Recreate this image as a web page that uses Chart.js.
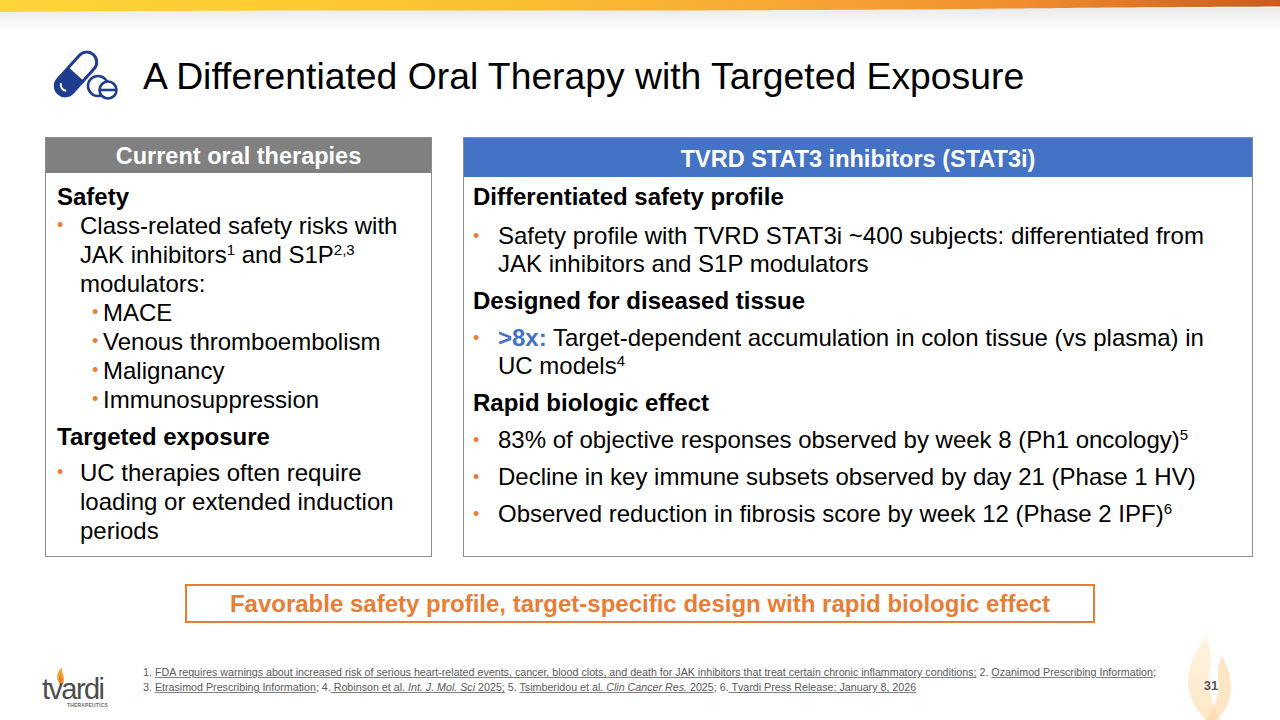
<!DOCTYPE html>
<html>
<head>
<meta charset="utf-8">
<script src="https://cdn.jsdelivr.net/npm/chart.js@4.4.1/dist/chart.umd.min.js"></script>
<style>
  html, body { margin: 0; padding: 0; }
  body { width: 1280px; height: 720px; position: relative; overflow: hidden; background: #fff;
         font-family: "Liberation Sans", Arial, sans-serif; color: #000; }
  .abs { position: absolute; }
  #banner { left: 0; top: 0; width: 1280px; height: 40px; }
  #title { left: 143px; top: 54px; font-size: 37.3px; line-height: 44px; white-space: nowrap; }
  .box { position: absolute; border: 1.5px solid #8c8c8c; box-sizing: border-box; }
  .head { color: #fff; font-weight: bold; font-size: 23.5px; text-align: center; white-space: nowrap; }
  .body24 { font-size: 24px; white-space: nowrap; }
  .b { position: relative; padding-left: 23px; }
  .b::before { content: "\2022"; color: #e87d35; position: absolute; left: 0; font-size: 18px; }
  .sub { padding-left: 11px; }
  .h { font-weight: bold; }
  sup { font-size: 15px; line-height: 0; vertical-align: 8px; }
  #note { left: 143px; top: 665px; font-size: 10.7px; line-height: 15px; color: #595959; white-space: nowrap; }
  #note u { text-decoration-color: #7f7f7f; }
</style>
</head>
<body>
<canvas id="banner" class="abs" width="1280" height="40"></canvas>

<svg class="abs" style="left:50px;top:48px" width="70" height="56" viewBox="0 0 70 56">
  <g transform="translate(26,26) rotate(-48)">
    <rect x="-26" y="-10" width="52" height="20" rx="10" fill="#fff" stroke="#1f3c8f" stroke-width="3"/>
    <path d="M0,-10 L-16,-10 A10,10 0 0 0 -16,10 L0,10 Z" fill="#1f3c8f"/>
    <path d="M-17,-5 A6,6 0 0 0 -19,4" stroke="#fff" stroke-width="2" fill="none"/>
  </g>
  <circle cx="48" cy="38" r="10" fill="#fff" stroke="#1f3c8f" stroke-width="2.6"/>
  <circle cx="58" cy="42" r="8.5" fill="#fff" stroke="#1f3c8f" stroke-width="2.6"/>
  <line x1="50" y1="42" x2="66" y2="42" stroke="#1f3c8f" stroke-width="2.6"/>
</svg>
<div id="title" class="abs">A Differentiated Oral Therapy with Targeted Exposure</div>

<!-- left box -->
<div class="box" style="left:45px;top:137px;width:387px;height:420px;">
  <div class="head" style="background:#808080;height:35px;line-height:36px;">Current oral therapies</div>
  <div class="body24" style="position:absolute;left:11px;top:44px;line-height:29px;">
    <div class="h">Safety</div>
    <div class="b">Class-related safety risks with<br>JAK inhibitors<sup>1</sup> and S1P<sup>2,3</sup><br>modulators:</div>
    <div style="padding-left:35px">
      <div class="b sub">MACE</div>
      <div class="b sub">Venous thromboembolism</div>
      <div class="b sub">Malignancy</div>
      <div class="b sub">Immunosuppression</div>
    </div>
    <div class="h" style="margin-top:8px;">Targeted exposure</div>
    <div class="b" style="margin-top:7px;">UC therapies often require<br>loading or extended induction<br>periods</div>
  </div>
</div>

<!-- right box -->
<div class="box" style="left:463px;top:137px;width:790px;height:420px;">
  <div class="head" style="background:#4472c4;height:39px;line-height:42px;">TVRD STAT3 inhibitors (STAT3i)</div>
  <div class="body24" style="position:absolute;left:9px;top:45px;line-height:28px;">
    <div class="h">Differentiated safety profile</div>
    <div class="b" style="margin-top:11px;padding-left:25px;">Safety profile with TVRD STAT3i ~400 subjects: differentiated from<br>JAK inhibitors and S1P modulators</div>
    <div class="h" style="margin-top:9px;">Designed for diseased tissue</div>
    <div class="b" style="margin-top:9px;padding-left:25px;"><b style="color:#4472c4">&gt;8x:</b> Target-dependent accumulation in colon tissue (vs plasma) in<br>UC models<sup>4</sup></div>
    <div class="h" style="margin-top:9px;">Rapid biologic effect</div>
    <div class="b" style="margin-top:9px;padding-left:25px;">83% of objective responses observed by week 8 (Ph1 oncology)<sup>5</sup></div>
    <div class="b" style="margin-top:9px;padding-left:25px;">Decline in key immune subsets observed by day 21 (Phase 1 HV)</div>
    <div class="b" style="margin-top:9px;padding-left:25px;">Observed reduction in fibrosis score by week 12 (Phase 2 IPF)<sup>6</sup></div>
  </div>
</div>

<!-- takeaway -->
<div class="abs" style="left:185px;top:584px;width:910px;height:39px;box-sizing:border-box;border:2px solid #e87d35;
     color:#e87d35;font-weight:bold;font-size:24px;line-height:35px;text-align:center;white-space:nowrap;">
  Favorable safety profile, target-specific design with rapid biologic effect
</div>

<!-- footer logo -->
<svg class="abs" style="left:38px;top:660px" width="80" height="50" viewBox="0 0 80 50">
  <path d="M22,24 C17,18 19,12 24,7 C23,13 27,16 26,22 C25,24 23,25 22,24 Z" fill="#f3a530"/>
  <path d="M22,24 C20,20 21,16 23,13 C23,17 25,19 24,22 Z" fill="#e87d35"/>
  <text x="4" y="39" font-family="Liberation Sans, Arial" font-size="29" fill="#4d4d4d" letter-spacing="-1.6">tvardi</text>
  <text x="29" y="46.5" font-family="Liberation Sans, Arial" font-size="4.8" font-weight="bold" fill="#666" letter-spacing="0.3">THERAPEUTICS</text>
</svg>

<div id="note" class="abs">
  1. <u>FDA requires warnings about increased risk of serious heart-related events, cancer, blood clots, and death for JAK inhibitors that treat certain chronic inflammatory conditions;</u> 2. <u>Ozanimod Prescribing Information</u>;<br>
  3. <u>Etrasimod Prescribing Information</u>; 4.<u> Robinson et al. <i>Int. J. Mol. Sci</i> 2025;</u> 5. <u>Tsimberidou et al. <i>Clin Cancer Res.</i> 2025</u>; 6.<u> Tvardi Press Release: January 8, 2026</u>
</div>

<!-- flame watermark -->
<svg class="abs" style="left:1176px;top:634px" width="60" height="86" viewBox="0 0 60 86">
  <defs>
    <linearGradient id="fl" x1="0" y1="0" x2="0" y2="1">
      <stop offset="0" stop-color="#fef0d4"/>
      <stop offset="1" stop-color="#fcdcae"/>
    </linearGradient>
  </defs>
  <path d="M30,2 C16,22 8,40 14,60 C18,72 24,80 30,86 L44,86 C36,70 30,52 34,34 C36,22 34,12 30,2 Z" fill="url(#fl)" opacity="0.7"/>
  <path d="M46,22 C56,40 58,58 50,74 C46,80 42,84 38,86 L30,86 C40,72 44,58 42,44 C41,36 43,28 46,22 Z" fill="#fcd9a8" opacity="0.65"/>
</svg>
<div class="abs" style="left:1196px;top:678px;width:30px;font-size:13px;font-weight:bold;color:#595959;text-align:center;">31</div>

<script>
// top ribbon: colour stops of the brand gradient and ribbon thickness sampled across the width
const ribbonStops = ["#fdd53a", "#fdcc31", "#fbc032", "#f8a834", "#f08d2e", "#cc5a1c"];
const ribbonX = [0, 1, 2, 3, 4, 5, 6, 7, 8];
const ribbonThickness = [12, 11, 10.5, 10.5, 10.5, 10, 9, 7.5, 6.5];

document.addEventListener("DOMContentLoaded", () => {
  const ctx = document.getElementById("banner");
  if (!ctx || typeof Chart === "undefined") return;

  // soft grey shadow under the ribbon
  const shadowPlugin = {
    id: "ribbon-shadow",
    beforeDatasetsDraw(chart) {
      const { ctx, width } = chart;
      const g = ctx.createLinearGradient(0, 8, 0, 34);
      g.addColorStop(0, "rgba(0,0,0,0.08)");
      g.addColorStop(1, "rgba(0,0,0,0)");
      ctx.save();
      ctx.fillStyle = g;
      ctx.fillRect(0, 8, width, 26);
      ctx.restore();
    },
  };

  new Chart(ctx, {
    type: "line",
    data: {
      labels: ribbonX,
      datasets: [{
        data: ribbonThickness,
        fill: "end", // fill up to the top edge
        tension: 0.4,
        pointRadius: 0,
        borderWidth: 0,
        backgroundColor: (c) => {
          const area = c.chart.chartArea;
          if (!area) return ribbonStops[0];
          const g = c.chart.ctx.createLinearGradient(area.left, 0, area.right, 0);
          ribbonStops.forEach((s, i) => g.addColorStop(i / (ribbonStops.length - 1), s));
          return g;
        },
      }],
    },
    options: {
      responsive: false,
      animation: false,
      layout: { padding: 0 },
      plugins: { legend: { display: false }, tooltip: { enabled: false } },
      scales: {
        x: { display: false, offset: false },
        y: { display: false, reverse: true, min: 0, max: 40 },
      },
    },
    plugins: [shadowPlugin],
  });
});
</script>
</body>
</html>
